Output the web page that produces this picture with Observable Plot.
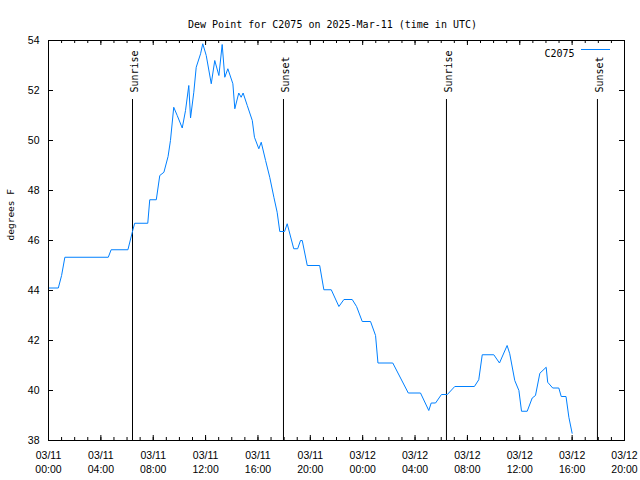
<!DOCTYPE html>
<html><head><meta charset="utf-8">
<script src="https://cdn.jsdelivr.net/npm/d3@7"></script>
<script src="https://cdn.jsdelivr.net/npm/@observablehq/plot@0.6"></script>
<style>body{margin:0;background:#fff} svg{display:block}</style>
</head><body><div id="chart"></div>
<script>
const titleText = "Dew Point for C2075 on 2025-Mar-11 (time in UTC)";
const yLabel = "degrees F";
const seriesName = "C2075";
const seriesColor = "#0080ff";

const times = [
  "03-11 00:00","03-11 00:45","03-11 01:00","03-11 01:15","03-11 04:34","03-11 04:47","03-11 06:04","03-11 06:26",
  "03-11 06:35","03-11 07:35","03-11 07:44","03-11 08:14","03-11 08:30","03-11 08:49","03-11 09:08","03-11 09:19",
  "03-11 09:34","03-11 09:50","03-11 10:13","03-11 10:28","03-11 10:43","03-11 10:51","03-11 11:06","03-11 11:17",
  "03-11 11:37","03-11 11:47","03-11 12:03","03-11 12:26","03-11 12:42","03-11 13:01","03-11 13:16","03-11 13:28",
  "03-11 13:42","03-11 14:05","03-11 14:14","03-11 14:32","03-11 14:43","03-11 14:52","03-11 15:11","03-11 15:34",
  "03-11 15:44","03-11 16:04","03-11 16:15","03-11 16:35","03-11 16:54","03-11 17:13","03-11 17:28","03-11 17:40",
  "03-11 18:02","03-11 18:14","03-11 18:44","03-11 19:02","03-11 19:15","03-11 19:23","03-11 19:46","03-11 20:43",
  "03-11 21:02","03-11 21:36","03-11 22:11","03-11 22:34","03-11 23:12","03-11 23:32","03-11 23:58","03-12 00:36",
  "03-12 00:59","03-12 01:10","03-12 02:18","03-12 03:29","03-12 04:25","03-12 05:03","03-12 05:14","03-12 05:34",
  "03-12 06:01","03-12 06:28","03-12 07:02","03-12 08:32","03-12 08:52","03-12 09:08","03-12 10:01","03-12 10:27",
  "03-12 11:02","03-12 11:14","03-12 11:37","03-12 11:56","03-12 12:08","03-12 12:34","03-12 12:57","03-12 13:12",
  "03-12 13:32","03-12 14:01","03-12 14:08","03-12 14:31","03-12 14:59","03-12 15:10","03-12 15:32","03-12 15:45",
  "03-12 16:00"
];
const dewpoints = [
  44.1,44.1,44.6,45.33,45.33,45.63,45.63,46.4,
  46.69,46.69,47.63,47.63,48.6,48.73,49.36,50.0,
  51.33,51.0,50.5,51.2,52.2,50.9,51.93,52.93,
  53.47,53.87,53.4,52.27,53.2,52.6,53.84,52.53,
  52.87,52.27,51.27,51.9,51.73,51.9,51.4,50.8,
  50.13,49.67,49.93,49.2,48.53,47.73,47.13,46.36,
  46.36,46.67,45.67,45.67,46.0,46.0,45.0,45.0,
  44.03,44.03,43.36,43.64,43.64,43.36,42.76,42.76,
  42.2,41.1,41.1,39.9,39.9,39.2,39.5,39.5,
  39.84,39.84,40.16,40.16,40.43,41.43,41.43,41.1,
  41.8,41.47,40.4,40.0,39.17,39.17,39.7,39.8,
  40.69,40.93,40.33,40.1,40.1,39.76,39.76,38.93,
  38.29
];

const sunTimes = ["03-11 06:25","03-11 17:57","03-12 06:24","03-12 17:56"];
const sunLabels = ["Sunrise","Sunset","Sunrise","Sunset"];

const xTickTimes = ["03-11 00:00","03-11 04:00","03-11 08:00","03-11 12:00","03-11 16:00","03-11 20:00",
                    "03-12 00:00","03-12 04:00","03-12 08:00","03-12 12:00","03-12 16:00","03-12 20:00"];
const xTickLabels = ["03/11\n00:00","03/11\n04:00","03/11\n08:00","03/11\n12:00","03/11\n16:00","03/11\n20:00",
                     "03/12\n00:00","03/12\n04:00","03/12\n08:00","03/12\n12:00","03/12\n16:00","03/12\n20:00"];
const yTicks = [38,40,42,44,46,48,50,52,54];

const parse = s => d3.utcParse("%Y-%m-%d %H:%M")("2025-" + s);
const data = times.map((t, i) => ({t: parse(t), v: dewpoints[i]}));
const sun = sunTimes.map((t, i) => ({t: parse(t), label: sunLabels[i]}));
const majorTicks = xTickTimes.map(parse);
const labelMap = new Map(majorTicks.map((d, i) => [+d, xTickLabels[i]]));
const xStart = majorTicks[0], xEnd = majorTicks[majorTicks.length - 1];
const minorTicks = d3.utcHour.range(xStart, xEnd);

const mono = "DejaVu Sans Mono";
const W = 640, H = 480, mL = 48, mR = 16, mT = 40, mB = 40;
const innerH = H - mT - mB, innerW = W - mL - mR;

const chart = Plot.plot({
  width: W, height: H,
  marginLeft: mL, marginRight: mR, marginTop: mT, marginBottom: mB,
  style: {background: "#fff", color: "#000", fontFamily: mono, fontSize: "10px"},
  x: {type: "utc", domain: [xStart, xEnd]},
  y: {domain: [38, 54]},
  marks: [
    Plot.tickX(minorTicks, {x: d => d, stroke: "#000", insetTop: innerH - 3}),
    Plot.tickX(minorTicks, {x: d => d, stroke: "#000", insetBottom: innerH - 3}),
    Plot.tickX(majorTicks, {x: d => d, stroke: "#000", insetTop: innerH - 5}),
    Plot.tickX(majorTicks, {x: d => d, stroke: "#000", insetBottom: innerH - 5}),
    Plot.tickY(yTicks, {y: d => d, stroke: "#000", insetRight: innerW - 5}),
    Plot.tickY(yTicks, {y: d => d, stroke: "#000", insetLeft: innerW - 5}),
    Plot.ruleX(sun, {x: "t", stroke: "#000", insetTop: 59}),
    Plot.text(sun, {x: "t", text: "label", frameAnchor: "top", rotate: -90, textAnchor: "start",
                    dy: 52, dx: -2, fontFamily: mono, fontSize: 10, fill: "#000"}),
    Plot.line(data, {x: "t", y: "v", stroke: seriesColor, strokeWidth: 1}),
    Plot.frame({stroke: "#000"}),
    Plot.text([seriesName], {frameAnchor: "top-right", dx: -50, dy: 9, textAnchor: "end",
                             fontFamily: mono, fontSize: 10, fill: "#000"}),
    Plot.text([titleText], {frameAnchor: "top", dy: -20, dx: -4, fontFamily: mono, fontSize: 10, fill: "#000"}),
    Plot.text([yLabel], {frameAnchor: "left", dx: -38, rotate: -90, fontFamily: mono, fontSize: 9.5, fill: "#000"}),
    Plot.axisX(majorTicks, {tickSize: 0, tickPadding: 8, tickFormat: d => labelMap.get(+d),
                            lineHeight: 1.35, fontFamily: "Liberation Sans", fontSize: 10.5, label: null}),
    Plot.axisY(yTicks, {tickSize: 0, tickPadding: 9, tickFormat: d => String(d),
                        fontFamily: "Liberation Sans", fontSize: 10.5, label: null})
  ]
});

const svg = d3.select(chart);
svg.append("line")
  .attr("x1", W - mR - 43).attr("x2", W - mR - 14)
  .attr("y1", mT + 9.5).attr("y2", mT + 9.5)
  .attr("stroke", seriesColor).attr("stroke-width", 1);

document.getElementById("chart").appendChild(chart);
</script>
</body></html>
